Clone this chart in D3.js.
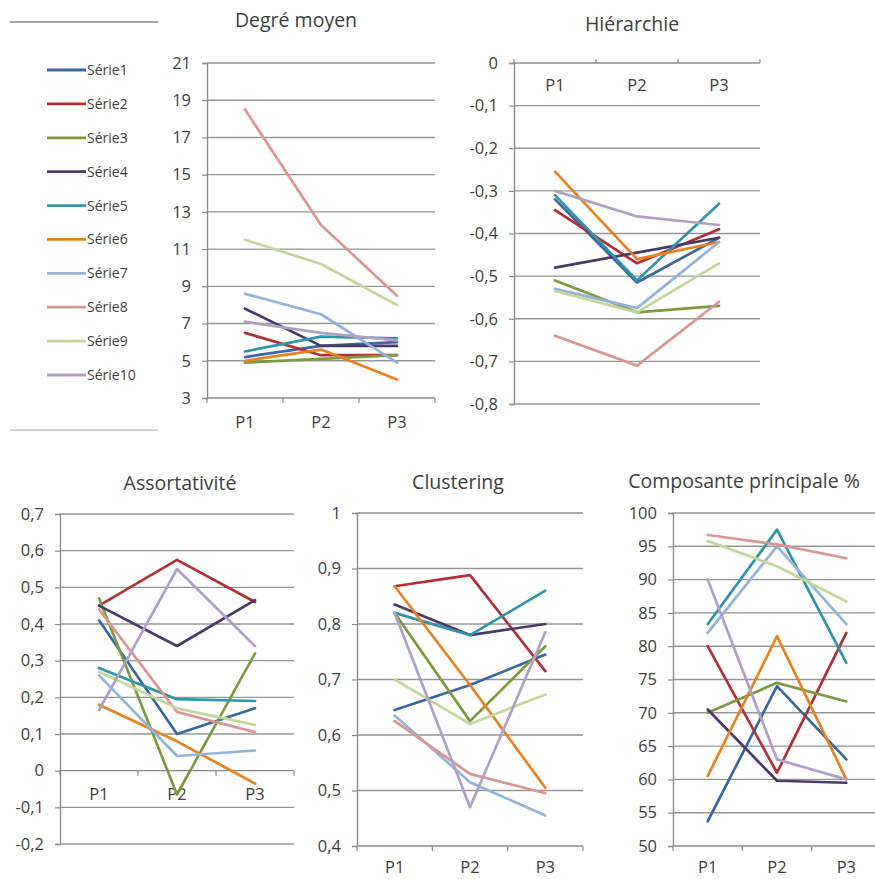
<!DOCTYPE html>
<html>
<head>
<meta charset="utf-8">
<script src="https://cdn.jsdelivr.net/npm/d3@7"></script>
<style>
  html, body { margin: 0; padding: 0; background: #fff; }
  svg { display: block; }
  text { font-family: "Open Sans", "Liberation Sans", sans-serif; fill: #404040; }
</style>
</head>
<body>
<svg id="chart" width="875" height="879"></svg>
<script>
// ---- data ----
const categories = ["P1", "P2", "P3"];
const seriesNames = ["Série1", "Série2", "Série3", "Série4", "Série5",
                     "Série6", "Série7", "Série8", "Série9", "Série10"];
const seriesColors = ["#3A67A0", "#B02F38", "#7E9A40", "#4A3A68", "#2F94A8",
                      "#E8821E", "#95B3D7", "#D99694", "#C3D69B", "#ADA2C4"];

// one row per series, one value per period
const degreMoyen = [
  [5.2, 5.8, 6.0],
  [6.5, 5.3, 5.3],
  [4.9, 5.1, 5.3],
  [7.8, 5.8, 5.8],
  [5.5, 6.3, 6.2],
  [5.0, 5.6, 4.0],
  [8.6, 7.5, 4.9],
  [18.5, 12.3, 8.5],
  [11.5, 10.2, 8.0],
  [7.1, 6.5, 6.1]
];
const hierarchie = [
  [-0.32, -0.515, -0.41],
  [-0.345, -0.47, -0.39],
  [-0.51, -0.585, -0.57],
  [-0.48, -0.445, -0.41],
  [-0.31, -0.51, -0.33],
  [-0.255, -0.46, -0.42],
  [-0.53, -0.575, -0.42],
  [-0.64, -0.71, -0.56],
  [-0.535, -0.585, -0.47],
  [-0.30, -0.36, -0.38]
];
const assortativite = [
  [0.41, 0.10, 0.17],
  [0.45, 0.575, 0.46],
  [0.47, -0.065, 0.32],
  [0.45, 0.34, 0.465],
  [0.28, 0.195, 0.19],
  [0.18, 0.08, -0.035],
  [0.26, 0.04, 0.055],
  [0.44, 0.16, 0.105],
  [0.27, 0.17, 0.125],
  [0.165, 0.55, 0.34]
];
const clustering = [
  [0.645, 0.69, 0.745],
  [0.868, 0.888, 0.715],
  [0.82, 0.625, 0.76],
  [0.835, 0.78, 0.80],
  [0.82, 0.78, 0.86],
  [0.868, 0.69, 0.505],
  [0.635, 0.515, 0.455],
  [0.625, 0.53, 0.495],
  [0.70, 0.62, 0.673],
  [0.82, 0.47, 0.785]
];
const composante = [
  [53.7, 74, 63],
  [80, 61, 82],
  [70, 74.5, 71.7],
  [70.5, 59.8, 59.5],
  [83.3, 97.5, 77.5],
  [60.5, 81.5, 60],
  [82, 95, 83.3],
  [96.7, 95.3, 93.2],
  [95.8, 92, 86.7],
  [90, 63, 60]
];

// tick values for each panel
const degreTicks = d3.range(3, 21.01, 2);
const hierTicks = d3.range(0, 9).map(i => -i / 10);
const assortTicks = d3.range(-2, 8).map(i => i / 10);
const clusterTicks = d3.range(4, 11).map(i => i / 10);
const compoTicks = d3.range(50, 101, 5);

// ---- drawing ----
const svg = d3.select("#chart");
const fr = d3.formatLocale({ decimal: ",", thousands: " ", grouping: [3], currency: ["", " €"], minus: "-" });
const fmt1 = fr.format(".1f");
const fmt0 = fr.format("d");
const fmtAuto = v => {
  if (Math.abs(v) < 1e-9) return "0";
  const r = Math.round(v * 1e6) / 1e6;
  return Number.isInteger(r) ? fmt0(r) : fmt1(r);
};

function drawPanel(cfg) {
  const g = svg.append("g");
  const x = d3.scaleBand().domain(categories).range([cfg.left, cfg.right]);
  const y = d3.scaleLinear().domain(cfg.domain).range([cfg.bottom, cfg.top]);
  const axisY = y(cfg.crossAt);

  // horizontal gridlines
  g.append("g").selectAll("line").data(cfg.ticks.filter(t => Math.abs(t - cfg.crossAt) > 1e-9))
    .join("line")
    .attr("x1", cfg.left).attr("x2", cfg.right)
    .attr("y1", d => y(d)).attr("y2", d => y(d))
    .attr("stroke", "#969696").attr("stroke-width", 1.4);

  // value axis
  const yAxis = d3.axisLeft(y).tickValues(cfg.ticks).tickFormat(fmtAuto)
    .tickSize(5).tickPadding(11);
  const ya = g.append("g").attr("transform", `translate(${cfg.left},0)`).call(yAxis);
  ya.select(".domain").attr("stroke", "#8c8c8c").attr("stroke-width", 1.4);
  ya.selectAll(".tick line").attr("stroke", "#8c8c8c").attr("stroke-width", 1.2);
  ya.selectAll(".tick text").style("font-size", "16.5px").attr("fill", "#404040");

  // category axis
  const xa = g.append("g");
  xa.append("line").attr("x1", cfg.left).attr("x2", cfg.right)
    .attr("y1", axisY).attr("y2", axisY)
    .attr("stroke", "#8c8c8c").attr("stroke-width", 1.4);
  const bounds = categories.map(c => x(c)).concat([x.range()[1]]);
  xa.selectAll("line.tk").data(bounds).join("line").attr("class", "tk")
    .attr("x1", d => d).attr("x2", d => d)
    .attr("y1", axisY - (cfg.tickUp ? 4 : 0)).attr("y2", axisY + (cfg.tickUp ? 0 : 5))
    .attr("stroke", "#8c8c8c").attr("stroke-width", 1.2);
  xa.selectAll("text").data(categories).join("text")
    .attr("x", d => x(d) + x.bandwidth() / 2)
    .attr("y", axisY + cfg.labelDy)
    .attr("text-anchor", "middle")
    .style("font-size", "16.5px")
    .text(d => d);

  // series lines
  const line = d3.line()
    .x((d, i) => x(categories[i]) + x.bandwidth() / 2)
    .y(d => y(d));
  g.append("g").selectAll("path").data(cfg.values).join("path")
    .attr("d", d => line(d))
    .attr("fill", "none")
    .attr("stroke", (d, i) => seriesColors[i])
    .attr("stroke-width", 2.7)
    .attr("stroke-linejoin", "round")
    .attr("stroke-linecap", "round");

  // title
  svg.append("text").attr("x", cfg.titleX).attr("y", cfg.titleY)
    .attr("text-anchor", "middle").style("font-size", "19.5px")
    .text(cfg.title);
}

drawPanel({ title: "Degré moyen", titleX: 296, titleY: 27, values: degreMoyen,
  domain: [3, 21], ticks: degreTicks, crossAt: 3,
  left: 207, right: 435, top: 63, bottom: 398, labelDy: 30 });
drawPanel({ title: "Hiérarchie", titleX: 632, titleY: 31, values: hierarchie,
  domain: [-0.8, 0], ticks: hierTicks, crossAt: 0, tickUp: true,
  left: 514, right: 760, top: 63, bottom: 404, labelDy: 28 });
drawPanel({ title: "Assortativité", titleX: 180, titleY: 490, values: assortativite,
  domain: [-0.2, 0.7], ticks: assortTicks, crossAt: 0,
  left: 60, right: 294, top: 514, bottom: 844, labelDy: 29 });
drawPanel({ title: "Clustering", titleX: 458, titleY: 489, values: clustering,
  domain: [0.4, 1], ticks: clusterTicks, crossAt: 0.4,
  left: 357, right: 583, top: 513, bottom: 846, labelDy: 27 });
drawPanel({ title: "Composante principale %", titleX: 744, titleY: 488, values: composante,
  domain: [50, 100], ticks: compoTicks, crossAt: 50,
  left: 673, right: 881, top: 513, bottom: 846, labelDy: 27 });

// ---- legend ----
const legend = svg.append("g");
legend.append("line").attr("x1", 10).attr("x2", 158).attr("y1", 22).attr("y2", 22)
  .attr("stroke", "#a6a6a6").attr("stroke-width", 2);
legend.append("line").attr("x1", 10).attr("x2", 158).attr("y1", 430).attr("y2", 430)
  .attr("stroke", "#d3d3d3").attr("stroke-width", 2);
const legY = d3.scalePoint().domain(seriesNames).range([70, 375]);
const items = legend.selectAll("g.item").data(seriesNames).join("g").attr("class", "item")
  .attr("transform", d => `translate(0,${legY(d)})`);
items.append("line").attr("x1", 47).attr("x2", 86).attr("y1", 0).attr("y2", 0)
  .attr("stroke", (d, i) => seriesColors[i]).attr("stroke-width", 2.8);
items.append("text").attr("x", 87).attr("y", 5).style("font-size", "14px")
  .text(d => d);
</script>
</body>
</html>
